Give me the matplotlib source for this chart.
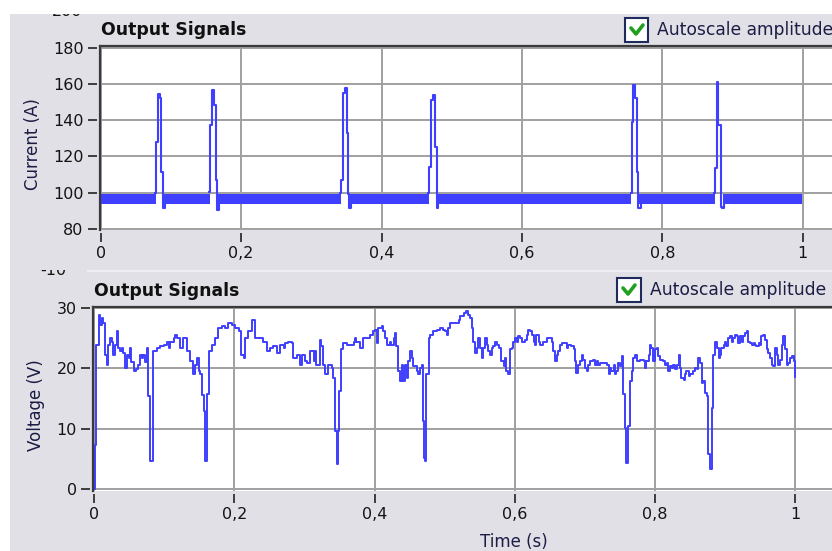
import matplotlib
matplotlib.use("Agg")
import matplotlib.pyplot as plt
from matplotlib.patches import Rectangle
from matplotlib.lines import Line2D
from matplotlib.transforms import Bbox, TransformedBbox

# ---- data ----
# current: noisy base band between the pulses, plus the pulses themselves
band_start = [0.000, 0.0900, 0.1672, 0.3550, 0.4795, 0.7670, 0.8860]
band_end = [0.0785, 0.1552, 0.3420, 0.4678, 0.7560, 0.8748, 0.9995]
band_lo = [93.6, 93.5, 93.6, 93.6, 93.6, 93.5, 93.6]
band_hi = [99.1, 99.2, 99.1, 99.2, 99.1, 99.1, 99.0]

spike_t = [
    [0.0770, 0.0788, 0.0820, 0.0840, 0.0860, 0.0890, 0.0915],
    [0.1540, 0.1557, 0.1590, 0.1615, 0.1640, 0.1660, 0.1685],
    [0.3410, 0.3425, 0.3448, 0.3475, 0.3505, 0.3528, 0.3540, 0.3565],
    [0.4665, 0.4682, 0.4705, 0.4730, 0.4762, 0.4785, 0.4810],
    [0.7550, 0.7564, 0.7588, 0.7612, 0.7635, 0.7659, 0.7690],
    [0.8735, 0.8752, 0.8776, 0.8799, 0.8833, 0.8850, 0.8880],
]
spike_i = [
    [99.8, 128.0, 154.5, 152.0, 111.5, 91.3, 95.0],
    [100.5, 137.3, 156.6, 148.3, 106.9, 90.3, 95.0],
    [99.5, 106.9, 154.8, 157.6, 132.7, 99.3, 91.3, 95.0],
    [99.5, 114.3, 151.0, 153.9, 125.3, 91.3, 95.0],
    [99.5, 139.1, 159.4, 152.0, 111.5, 91.3, 95.0],
    [99.5, 113.4, 161.2, 137.3, 92.2, 91.5, 95.0],
]

volt_t = [
    0.000, 0.001, 0.003, 0.006, 0.008, 0.011, 0.013, 0.015, 0.018, 0.020,
    0.022, 0.025, 0.027, 0.030, 0.032, 0.034, 0.037, 0.039, 0.041, 0.044,
    0.046, 0.049, 0.051, 0.053, 0.056, 0.060, 0.063, 0.065, 0.068, 0.070,
    0.072, 0.075, 0.077, 0.080, 0.084, 0.089, 0.094, 0.099, 0.103, 0.106,
    0.108, 0.113, 0.115, 0.118, 0.122, 0.127, 0.132, 0.137, 0.141, 0.144,
    0.146, 0.149, 0.151, 0.154, 0.156, 0.158, 0.161, 0.163, 0.168, 0.172,
    0.177, 0.182, 0.187, 0.191, 0.196, 0.201, 0.206, 0.210, 0.213, 0.215,
    0.220, 0.225, 0.229, 0.234, 0.239, 0.241, 0.246, 0.251,
    0.255, 0.260, 0.265, 0.270, 0.272, 0.277, 0.282, 0.284, 0.289, 0.294,
    0.296, 0.301, 0.303, 0.308, 0.313, 0.315, 0.317, 0.322, 0.324, 0.327,
    0.329, 0.334, 0.339, 0.341, 0.343, 0.346, 0.348, 0.349, 0.352, 0.355,
    0.360, 0.365, 0.370, 0.372, 0.374, 0.379, 0.384, 0.389, 0.393, 0.398,
    0.401, 0.403, 0.405, 0.410, 0.412, 0.415, 0.417, 0.422, 0.424, 0.427,
    0.429, 0.431, 0.434, 0.436, 0.439, 0.441, 0.443, 0.446, 0.448, 0.450,
    0.453, 0.455, 0.460, 0.462, 0.465, 0.467, 0.469, 0.470, 0.472, 0.474,
    0.477, 0.479, 0.484, 0.489, 0.493, 0.498, 0.500, 0.503, 0.505, 0.508,
    0.517, 0.520, 0.522, 0.527, 0.531, 0.534, 0.536, 0.539, 0.541, 0.543,
    0.546, 0.548, 0.550, 0.553, 0.555, 0.558, 0.560, 0.562, 0.565, 0.567,
    0.569, 0.572, 0.574, 0.577, 0.581, 0.584, 0.586, 0.588, 0.591, 0.593,
    0.596, 0.598, 0.600, 0.603, 0.605, 0.608, 0.610, 0.615, 0.617, 0.619,
    0.622, 0.624, 0.627, 0.629, 0.631, 0.634, 0.636, 0.641, 0.646, 0.653,
    0.655, 0.657, 0.660, 0.662, 0.665, 0.667, 0.674, 0.676, 0.681, 0.684,
    0.686, 0.688, 0.691, 0.693, 0.696, 0.698, 0.700, 0.703, 0.705, 0.707,
    0.712, 0.715, 0.717, 0.719, 0.722, 0.731, 0.734, 0.736, 0.738, 0.741,
    0.743, 0.745, 0.748, 0.750, 0.753, 0.755, 0.757, 0.759, 0.762, 0.765,
    0.767, 0.769, 0.772, 0.774, 0.779, 0.784, 0.786, 0.788, 0.791, 0.793,
    0.795, 0.798, 0.800, 0.803, 0.805, 0.807, 0.812, 0.814, 0.817, 0.819,
    0.822, 0.824, 0.826, 0.829, 0.831, 0.834, 0.836, 0.838, 0.841, 0.843,
    0.845, 0.848, 0.850, 0.855, 0.857, 0.860, 0.862, 0.864, 0.867, 0.869,
    0.872, 0.874, 0.876, 0.879, 0.881, 0.883, 0.886, 0.888, 0.891, 0.893,
    0.895, 0.898, 0.900, 0.902, 0.905, 0.907, 0.910, 0.912, 0.914, 0.917,
    0.919, 0.922, 0.924, 0.926, 0.929, 0.931, 0.933, 0.936, 0.938, 0.941,
    0.943, 0.945, 0.948, 0.950, 0.952, 0.955, 0.957, 0.960, 0.962, 0.964,
    0.967, 0.969, 0.971, 0.974, 0.976, 0.979, 0.981, 0.983, 0.986, 0.988,
    0.990, 0.993, 0.995, 0.998, 1.000,
]
volt_v = [
    0.0, 7.4, 23.9, 28.8, 27.2, 28.3, 27.5, 22.2, 20.6, 23.9,
    25.0, 24.4, 22.2, 23.9, 26.1, 23.3, 22.8, 23.3, 22.5, 20.1,
    22.2, 21.7, 23.3, 21.1, 19.5, 19.8, 20.6, 22.2, 21.7, 22.2,
    21.1, 23.3, 15.4, 4.7, 22.8, 23.3, 23.6, 23.9, 24.4, 23.3,
    24.4, 25.0, 25.5, 25.0, 23.3, 25.0, 22.8, 21.2, 19.0, 20.6,
    21.7, 19.5, 19.0, 15.5, 12.9, 4.7, 15.7, 22.8, 23.9, 25.0,
    26.6, 26.9, 26.6, 27.5, 27.2, 26.6, 26.1, 22.2, 21.7, 25.0,
    26.1, 28.0, 25.0, 25.0, 25.0, 24.4, 22.8, 23.3,
    23.6, 22.5, 23.9, 23.3, 24.2, 24.4, 24.2, 21.7, 22.2, 20.6,
    22.2, 21.2, 20.9, 22.8, 21.2, 22.8, 20.6, 24.7, 23.6, 20.6,
    19.0, 20.6, 20.1, 18.4, 9.6, 4.1, 9.6, 16.2, 23.1, 24.2,
    23.9, 23.9, 24.4, 25.0, 24.4, 23.3, 25.0, 25.0, 25.5, 26.1,
    26.4, 24.2, 26.6, 26.9, 26.1, 25.0, 23.9, 24.4, 23.9, 25.0,
    25.8, 23.6, 19.5, 17.9, 20.6, 17.9, 20.6, 18.4, 21.2, 22.8,
    21.7, 20.3, 19.5, 19.0, 20.1, 20.6, 11.3, 5.2, 4.7, 19.0,
    25.0, 25.5, 26.1, 26.4, 26.6, 26.4, 26.1, 25.5, 26.6, 27.5,
    27.5, 28.0, 28.6, 29.1, 29.4, 28.8, 28.3, 26.6, 24.4, 22.5,
    23.3, 25.0, 23.3, 21.7, 23.3, 25.0, 23.9, 22.8, 22.2, 23.3,
    23.6, 24.4, 23.9, 23.3, 21.2, 20.3, 21.7, 19.5, 19.0, 23.1,
    23.3, 24.4, 25.0, 24.4, 25.3, 25.0, 24.4, 24.7, 25.5, 26.4,
    26.1, 25.5, 24.4, 23.9, 25.5, 24.4, 23.9, 24.4, 25.0, 24.4,
    22.8, 21.2, 22.2, 22.8, 23.9, 24.2, 23.3, 23.9, 23.6, 23.1,
    21.2, 19.2, 20.6, 21.2, 22.2, 21.4, 20.1, 19.5, 20.6, 21.2,
    21.4, 20.6, 21.2, 20.6, 20.9, 20.6, 19.0, 20.1, 19.5, 20.6,
    19.0, 19.5, 20.9, 20.3, 22.0, 15.7, 10.2, 4.4, 10.4, 17.9,
    19.5, 21.7, 22.2, 21.2, 21.4, 21.2, 20.1, 21.2, 22.2, 23.9,
    23.3, 21.2, 23.1, 23.3, 22.0, 21.4, 21.2, 20.6, 20.9, 19.5,
    20.3, 20.1, 20.6, 19.8, 20.6, 22.2, 20.1, 18.4, 18.1, 19.0,
    19.5, 18.7, 19.0, 19.5, 20.1, 19.8, 21.7, 20.9, 17.6, 17.9,
    15.9, 15.4, 5.8, 3.3, 13.5, 22.2, 24.4, 23.3, 21.7, 22.2,
    23.3, 23.9, 24.4, 23.6, 25.0, 25.3, 24.4, 25.0, 25.5, 25.3,
    24.2, 25.3, 24.4, 25.3, 25.8, 26.1, 24.4, 24.2, 23.9, 24.2,
    23.9, 23.6, 24.2, 23.9, 25.3, 25.5, 24.7, 23.1, 22.5, 21.7,
    20.6, 20.3, 23.3, 22.2, 20.6, 21.4, 23.9, 25.3, 23.1, 20.6,
    20.9, 21.7, 22.0, 21.2, 18.5,
]

x_ticks = [0, 0.2, 0.4, 0.6, 0.8, 1]
x_labels = ['0', '0,2', '0,4', '0,6', '0,8', '1']
cur_ticks = [80, 100, 120, 140, 160, 180]
volt_ticks = [0, 10, 20, 30]

BLUE = '#3f3fff'
PANEL = '#e0e0e6'
GRID = '#a0a0a0'
LABEL = '#1c1c44'

W, H = 832, 551


def fx(px):
    return px / W


def fy(py):
    return 1 - py / H


plt.rcParams['font.family'] = ['DejaVu Sans']

fig = plt.figure(figsize=(8.32, 5.51), dpi=100, facecolor='white')
fig.add_artist(Rectangle((fx(10), 0), 1 - fx(10), fy(14), transform=fig.transFigure,
                         facecolor=PANEL, edgecolor='none', zorder=0))


def make_axes(left, top, bottom, xlim, ylim, yticks):
    ax = fig.add_axes([fx(left), fy(bottom), 1 - fx(left), (bottom - top) / H])
    ax.set_facecolor('white')
    for s in ax.spines.values():
        s.set_visible(False)
    ax.spines['left'].set_position(('outward', 2.2))
    ax.spines['bottom'].set_position(('outward', 2.2))
    ax.set_xlim(*xlim)
    ax.set_ylim(*ylim)
    ax.set_xticks(x_ticks)
    ax.set_xticklabels(x_labels)
    ax.set_yticks(yticks)
    ax.tick_params(direction='out', length=6.5, width=1.3, color='#303030',
                   labelsize=11.5, labelcolor='#141414', pad=3)
    ax.grid(True, color=GRID, lw=1.4)
    ax.set_axisbelow(True)
    # sunken frame: dark top and left edges
    ax.add_line(Line2D([0, 0], [0, 1], transform=ax.transAxes, color='#3a3a3a',
                       lw=1.6, clip_on=False, zorder=4))
    ax.add_line(Line2D([0, 1], [1, 1], transform=ax.transAxes, color='#3a3a3a',
                       lw=1.6, clip_on=False, zorder=4))
    return ax


# ---- top graph: current ----
ax1 = make_axes(100, 46.5, 230, (-0.001, 1.0417), (79.3, 180.6), cur_ticks)
for s, e, lo, hi in zip(band_start, band_end, band_lo, band_hi):
    ax1.fill_between([s, e], [lo, lo], [hi, hi], color=BLUE, lw=0, zorder=3)
for ts, vs in zip(spike_t, spike_i):
    ax1.plot(ts, vs, drawstyle='steps-post', color=BLUE, lw=1.5, zorder=3)

# ---- bottom graph: voltage ----
ax2 = make_axes(93, 306.7, 491, (-0.0019, 1.0528), (-0.28, 30.17), volt_ticks)
ax2.plot(volt_t, volt_v, drawstyle='steps-post', color=BLUE, lw=1.4, zorder=3)

# ---- panel decorations ----
for x, y in [(101, 30), (94, 291)]:
    fig.text(fx(x), fy(y), 'Output Signals', fontsize=12.4, fontweight='bold',
             color='#101010', va='center', ha='left')


def checkbox(x0, y0, x1, y1, tx, ty):
    fig.add_artist(Rectangle((fx(x0), fy(y1)), fx(x1) - fx(x0), (y1 - y0) / H,
                             transform=fig.transFigure, facecolor='white',
                             edgecolor='#1e2b5c', lw=1.5))
    fig.add_artist(Line2D([fx(x0 + 6), fx(x0 + 11), fx(x0 + 18)],
                          [fy(y0 + 10), fy(y0 + 16), fy(y0 + 7)],
                          transform=fig.transFigure, color='#1fa11f', lw=2.6,
                          solid_capstyle='round'))
    fig.text(fx(tx), fy(ty), 'Autoscale amplitude', fontsize=12.3, color=LABEL,
             va='center', ha='left')


checkbox(625, 18, 648, 42, 657, 30)
checkbox(617, 278, 641, 302, 650, 290)

fig.text(fx(33), fy(144), 'Current (A)', rotation=90, fontsize=12, color=LABEL,
         ha='center', va='center')
fig.text(fx(36), fy(405), 'Voltage (V)', rotation=90, fontsize=12, color=LABEL,
         ha='center', va='center')
fig.text(fx(514), fy(547), 'Time (s)', fontsize=12, color=LABEL,
         ha='center', va='baseline')


# scrolled-off labels: only their lower edge peeks into view
def peek(x, base, txt, ytop, ybot):
    t = fig.text(fx(x), fy(base), txt, fontsize=11.5, color='#141414',
                 ha='right', va='baseline')
    box = Bbox([[fx(x - 40), fy(ybot)], [fx(x + 5), fy(ytop)]])
    t.set_clip_box(TransformedBbox(box, fig.transFigure))
    t.set_clip_on(True)


peek(82, 16, '200', 14, 18)
peek(66, 275, '-10', 270, 278)
fig.add_artist(Line2D([fx(88), 1], [fy(271), fy(271)], transform=fig.transFigure,
                      color='#f2f2f6', lw=1.2))

fig.savefig('out.png', dpi=100, facecolor=fig.get_facecolor())
